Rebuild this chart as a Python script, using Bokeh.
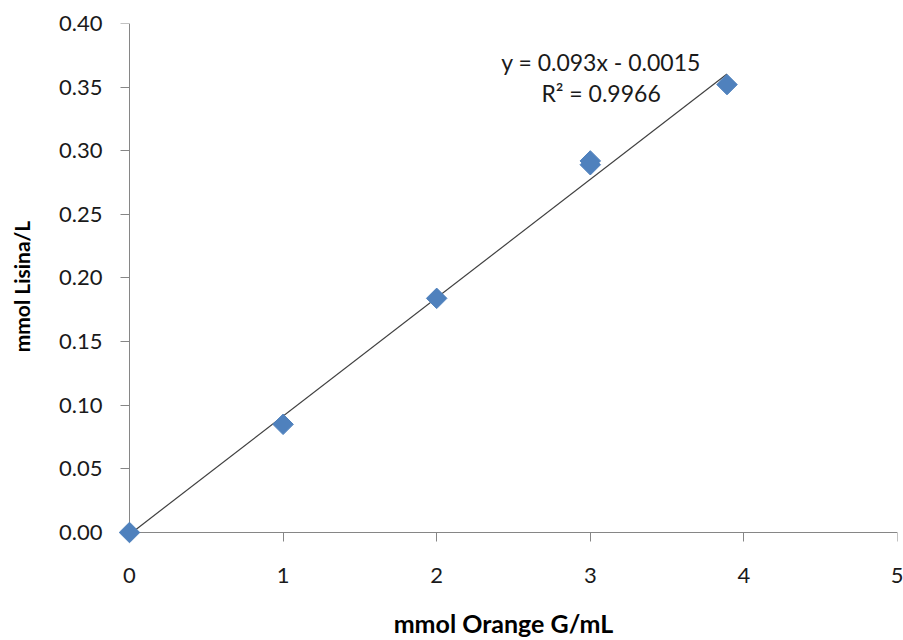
from bokeh.plotting import figure
from bokeh.models import Range1d, FixedTicker, Label, CustomJSTickFormatter, LinearAxis
from bokeh.embed import file_html
from bokeh.resources import INLINE
import numpy as np

x_vals = [0.0, 1.0, 2.0, 3.0, 3.0, 3.89]
y_vals = [0.0, 0.085, 0.184, 0.289, 0.292, 0.352]
slope = 0.093
intercept = -0.0015
eq_text = "y = 0.093x - 0.0015"
r2_text = "R² = 0.9966"
x_ticks = [0, 1, 2, 3, 4, 5]
y_ticks = [0.0, 0.05, 0.10, 0.15, 0.20, 0.25, 0.30, 0.35, 0.40]
x_title = "mmol  Orange G/mL"
y_title = "mmol  Lisina/L"

FONT = "Lato"
AXIS_COLOR = "#868686"

# frame padded slightly beyond the axes so the marker at the origin is not clipped
p = figure(width=903, height=640, output_backend="svg", toolbar_location=None,
           x_range=Range1d(-14 / 153.6, 5), y_range=Range1d(-12 / 1272.0, 0.40),
           min_border_left=115, min_border_right=6, min_border_top=23, min_border_bottom=96)
p.outline_line_color = None
p.xgrid.visible = False
p.ygrid.visible = False

# panel axes: tick labels and titles only
for ax in (p.xaxis, p.yaxis):
    ax.axis_line_color = None
    ax.major_tick_line_color = None
    ax.minor_tick_line_color = None
    ax.major_tick_in = 0
    ax.major_tick_out = 0
    ax.major_label_text_font = FONT
    ax.major_label_text_font_size = "22px"
    ax.major_label_text_color = "#1a1a1a"
    ax.axis_label_text_font = FONT
    ax.axis_label_text_font_style = "bold"
    ax.axis_label_text_color = "#000000"

p.xaxis.axis_label_text_font_size = "25px"
p.yaxis.axis_label_text_font_size = "21px"
p.xaxis.ticker = FixedTicker(ticks=x_ticks)
p.yaxis.ticker = FixedTicker(ticks=y_ticks)
p.yaxis.formatter = CustomJSTickFormatter(code="return tick.toFixed(2);")
p.xaxis.major_label_standoff = 23
p.yaxis.major_label_standoff = 13
p.xaxis.axis_label = x_title
p.yaxis.axis_label = y_title
p.xaxis.axis_label_standoff = 22
p.yaxis.axis_label_standoff = 22

# axis lines and ticks at the data origin
for side, bounds, ticks in (("below", (0, 5), x_ticks), ("left", (0, 0.40), y_ticks)):
    a = LinearAxis(fixed_location=0, bounds=bounds, ticker=FixedTicker(ticks=ticks),
                   axis_line_color=AXIS_COLOR, major_tick_line_color=AXIS_COLOR,
                   minor_tick_line_color=None, major_tick_in=0, major_tick_out=9,
                   major_label_text_color=None, major_label_text_font_size="1px")
    p.add_layout(a, side)

# trendline
tx = np.array([0.0, max(x_vals)])
ty = slope * tx + intercept
p.line(tx, ty, line_color="#404040", line_width=1.2)

r = p.scatter(x_vals, y_vals, marker="square", angle=np.pi / 4, size=14.5,
              fill_color="#4F81BD", line_color="#4F81BD", level="overlay")

p.add_layout(Label(x=3.07, y=0.3695, text=eq_text, text_align="center", text_baseline="middle",
                   text_font=FONT, text_font_size="23px", text_color="#1a1a1a"))
p.add_layout(Label(x=3.07, y=0.345, text=r2_text, text_align="center", text_baseline="middle",
                   text_font=FONT, text_font_size="23px", text_color="#1a1a1a"))

open("out.html", "w").write(file_html(p, INLINE))
